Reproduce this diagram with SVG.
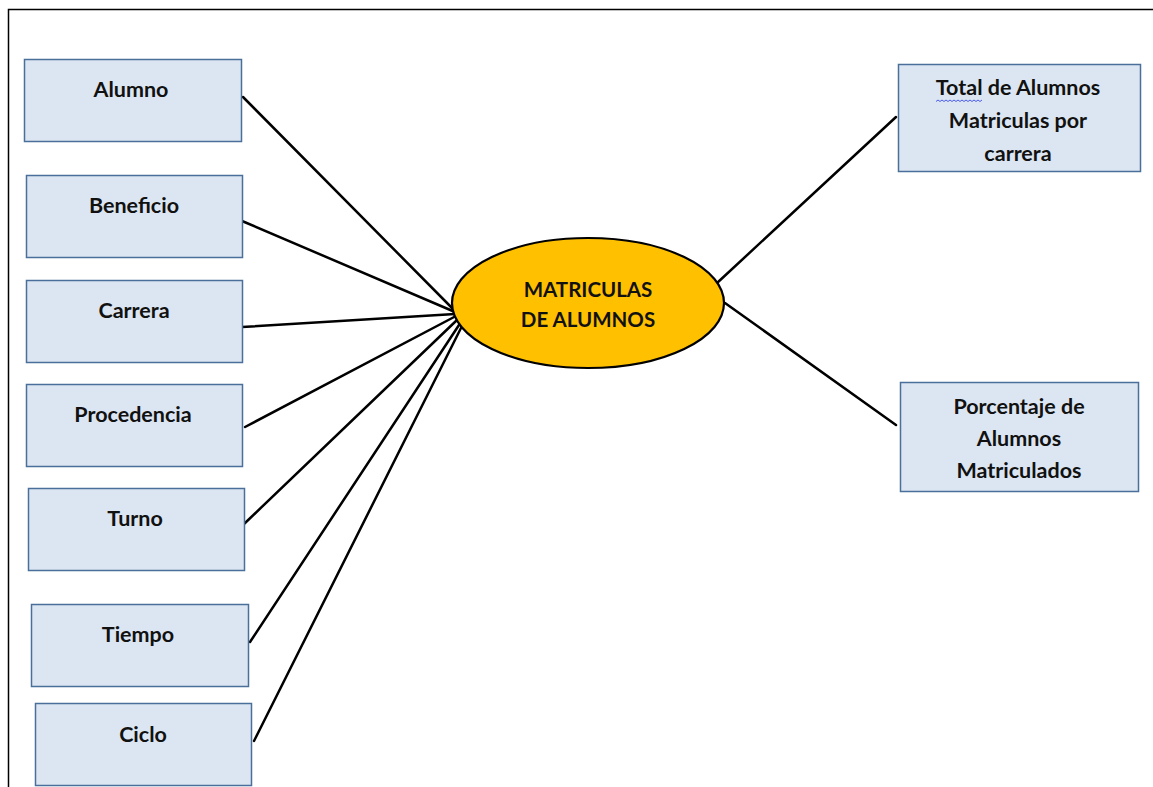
<svg xmlns="http://www.w3.org/2000/svg" width="1153" height="787" viewBox="0 0 1153 787">
  <style>
    .box { fill: #dce6f2; stroke: #4a6f9b; stroke-width: 1.5; }
    .lbl { font-family: Lato, "Open Sans", "Liberation Sans", sans-serif; font-weight: bold; font-size: 21.5px; fill: #111; text-anchor: middle; }
    .cap { font-size: 20.5px; }
    .link { stroke: #000; stroke-width: 2.5; fill: none; stroke-linecap: round; }
  </style>
  <rect width="1153" height="787" fill="#fff"/>
  <!-- page frame -->
  <path d="M8.5 795 V9.5 H1160" fill="none" stroke="#000" stroke-width="1.5"/>

  <g id="connectors">
    <line class="link" x1="243" y1="97" x2="455" y2="311"/>
    <line class="link" x1="242" y1="221" x2="455" y2="312"/>
    <line class="link" x1="242" y1="327" x2="455" y2="314"/>
    <line class="link" x1="245" y1="427" x2="456" y2="316"/>
    <line class="link" x1="244" y1="524" x2="457" y2="320"/>
    <line class="link" x1="250" y1="642" x2="459" y2="325"/>
    <line class="link" x1="254" y1="741" x2="461" y2="328"/>
    <line class="link" x1="717" y1="283" x2="896" y2="117"/>
    <line class="link" x1="725" y1="303" x2="896" y2="425"/>
  </g>

  <g id="center">
    <ellipse cx="588" cy="303" rx="136" ry="65" fill="#ffc000" stroke="#000" stroke-width="2.2"/>
    <text class="lbl cap" x="588" y="297">MATRICULAS</text>
    <text class="lbl cap" x="588" y="327">DE ALUMNOS</text>
  </g>

  <g id="alumno">
    <rect class="box" x="24.5" y="59.5" width="217" height="82"/>
    <text class="lbl" x="131" y="97">Alumno</text>
  </g>
  <g id="beneficio">
    <rect class="box" x="26.5" y="175.5" width="216" height="82"/>
    <text class="lbl" x="134" y="213">Beneficio</text>
  </g>
  <g id="carrera">
    <rect class="box" x="26.5" y="280.5" width="216" height="82"/>
    <text class="lbl" x="134" y="318">Carrera</text>
  </g>
  <g id="procedencia">
    <rect class="box" x="26.5" y="384.5" width="216" height="82"/>
    <text class="lbl" x="133" y="422">Procedencia</text>
  </g>
  <g id="turno">
    <rect class="box" x="28.5" y="488.5" width="216" height="82"/>
    <text class="lbl" x="135" y="526">Turno</text>
  </g>
  <g id="tiempo">
    <rect class="box" x="31.5" y="604.5" width="217" height="82"/>
    <text class="lbl" x="138" y="642">Tiempo</text>
  </g>
  <g id="ciclo">
    <rect class="box" x="35.5" y="703.5" width="216" height="82"/>
    <text class="lbl" x="143" y="742">Ciclo</text>
  </g>

  <g id="total">
    <rect class="box" x="898.5" y="64.5" width="242" height="107"/>
    <text class="lbl" x="1018" y="95">Total de Alumnos</text>
    <text class="lbl" x="1018" y="128">Matriculas por</text>
    <text class="lbl" x="1018" y="161">carrera</text>
    <!-- spell-check squiggle under "Total" -->
    <path d="M936 101.5 l2 -1.5 l2 1.5 l2 -1.5 l2 1.5 l2 -1.5 l2 1.5 l2 -1.5 l2 1.5 l2 -1.5 l2 1.5 l2 -1.5 l2 1.5 l2 -1.5 l2 1.5 l2 -1.5 l2 1.5 l2 -1.5 l2 1.5 l2 -1.5 l2 1.5 l2 -1.5 l2 1.5 l2 -1.5" fill="none" stroke="#4a5cf0" stroke-width="1"/>
  </g>
  <g id="porcentaje">
    <rect class="box" x="900.5" y="382.5" width="238" height="109"/>
    <text class="lbl" x="1019" y="414">Porcentaje de</text>
    <text class="lbl" x="1019" y="446">Alumnos</text>
    <text class="lbl" x="1019" y="478">Matriculados</text>
  </g>
</svg>
